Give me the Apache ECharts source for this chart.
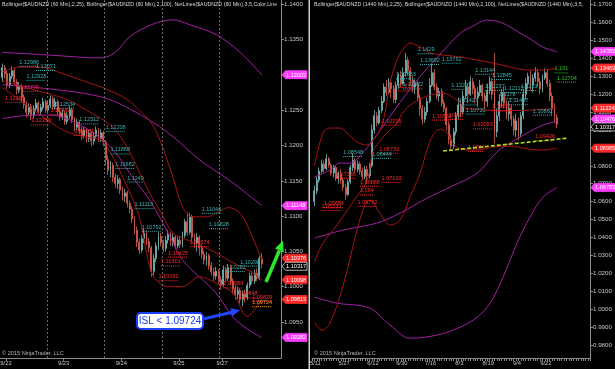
<!DOCTYPE html>
<html><head><meta charset="utf-8">
<script src="https://cdn.jsdelivr.net/npm/echarts@6/dist/echarts.min.js"></script>
<style>html,body{margin:0;padding:0;background:#000;}#c{width:615px;height:369px;}</style>
</head><body><div id="c"></div>
<script>
// ---------- 60 min panel (left) ----------
const leftOpen = [
1.1296,1.1310,1.1302,1.1285,1.1298,1.1306,1.1290,1.1279,1.1283,1.1268,
1.1258,1.1247,1.1255,1.1243,1.1252,1.1260,1.1248,1.1254,1.1262,1.1250,
1.1257,1.1266,1.1255,1.1262,1.1248,1.1240,1.1246,1.1234,1.1242,1.1251,
1.1237,1.1226,1.1233,1.1221,1.1214,1.1222,1.1210,1.1217,1.1206,1.1213,
1.1222,1.1210,1.1218,1.1205,1.1180,1.1165,1.1172,1.1155,1.1146,1.1152,
1.1137,1.1128,1.1133,1.1118,1.1110,1.1096,1.1080,1.1063,1.1052,1.1068,
1.1076,1.1064,1.1055,1.1022,1.1040,1.1058,1.1071,1.1062,1.1054,1.1066,
1.1074,1.1063,1.1070,1.1058,1.1066,1.1060,1.1073,1.1092,1.1077,1.1099,
1.1070,1.1062,1.1070,1.1055,1.1046,1.1038,1.1044,1.1030,1.1021,1.1015,
1.1022,1.1010,1.1003,1.1024,1.1012,1.1027,1.1008,1.0997,1.0989,1.0995,
1.0982,1.0990,1.0985,1.1002,1.1015,1.1008,1.1019,1.1012,1.1040];
const leftClose = [
1.1310,1.1302,1.1285,1.1298,1.1306,1.1290,1.1279,1.1283,1.1268,1.1258,
1.1247,1.1255,1.1243,1.1252,1.1260,1.1248,1.1254,1.1262,1.1250,1.1257,
1.1266,1.1255,1.1262,1.1248,1.1240,1.1246,1.1234,1.1242,1.1251,1.1237,
1.1226,1.1233,1.1221,1.1214,1.1222,1.1210,1.1217,1.1206,1.1213,1.1222,
1.1210,1.1218,1.1205,1.1180,1.1165,1.1172,1.1155,1.1146,1.1152,1.1137,
1.1128,1.1133,1.1118,1.1110,1.1096,1.1080,1.1063,1.1052,1.1068,1.1076,
1.1064,1.1055,1.1022,1.1040,1.1058,1.1071,1.1062,1.1054,1.1066,1.1074,
1.1063,1.1070,1.1058,1.1066,1.1060,1.1073,1.1092,1.1077,1.1099,1.1070,
1.1062,1.1070,1.1055,1.1046,1.1038,1.1044,1.1030,1.1021,1.1015,1.1022,
1.1010,1.1003,1.1024,1.1012,1.1027,1.1008,1.0997,1.0989,1.0995,1.0982,
1.0990,1.0985,1.1002,1.1015,1.1008,1.1019,1.1012,1.1040,1.1032];
const leftHigh = [
1.1316,1.1314,1.1306,1.1303,1.1312,1.1309,1.1294,1.1290,1.1287,1.1272,
1.1263,1.1260,1.1259,1.1257,1.1266,1.1263,1.1259,1.1268,1.1265,1.1262,
1.1271,1.1270,1.1268,1.1265,1.1253,1.1251,1.1249,1.1247,1.1256,1.1254,
1.1240,1.1238,1.1236,1.1226,1.1227,1.1225,1.1222,1.1220,1.1219,1.1227,
1.1225,1.1223,1.1221,1.1208,1.1186,1.1178,1.1176,1.1160,1.1158,1.1155,
1.1142,1.1139,1.1136,1.1122,1.1114,1.1100,1.1085,1.1068,1.1073,1.1082,
1.1080,1.1069,1.1058,1.1046,1.1063,1.1077,1.1076,1.1067,1.1072,1.1080,
1.1078,1.1075,1.1073,1.1071,1.1072,1.1078,1.1096,1.1105,1.1104,1.1102,
1.1075,1.1076,1.1073,1.1060,1.1051,1.1049,1.1047,1.1035,1.1027,1.1028,
1.1025,1.1015,1.1030,1.1028,1.1032,1.1031,1.1012,1.1002,1.1000,1.0998,
1.0995,1.0996,1.1006,1.1020,1.1022,1.1024,1.1026,1.1044,1.1048];
const leftLow = [
1.1290,1.1295,1.1280,1.1281,1.1294,1.1286,1.1272,1.1274,1.1262,1.1252,
1.1240,1.1242,1.1236,1.1238,1.1248,1.1244,1.1243,1.1250,1.1246,1.1247,
1.1253,1.1250,1.1251,1.1243,1.1235,1.1236,1.1229,1.1230,1.1238,1.1232,
1.1220,1.1222,1.1216,1.1208,1.1210,1.1204,1.1205,1.1199,1.1201,1.1209,
1.1205,1.1205,1.1199,1.1172,1.1158,1.1155,1.1148,1.1140,1.1138,1.1131,
1.1122,1.1120,1.1112,1.1104,1.1090,1.1074,1.1056,1.1046,1.1048,1.1062,
1.1059,1.1049,1.1014,1.1016,1.1035,1.1052,1.1057,1.1049,1.1050,1.1061,
1.1058,1.1057,1.1053,1.1054,1.1055,1.1056,1.1069,1.1072,1.1074,1.1065,
1.1055,1.1050,1.1044,1.1040,1.1032,1.1030,1.1024,1.1016,1.1008,1.1010,
1.1004,1.0996,1.0999,1.1006,1.1008,1.1002,1.0990,1.0982,1.0983,1.0976,
1.0972,1.0978,1.0981,1.0998,1.1003,1.1004,1.1008,1.1009,1.1026];

const leftBB100Upper = [[0,1.1332],[20,1.1328],[41,1.1324],[47,1.1332],[53,1.1354],[62,1.1371],[71,1.1378],[78,1.1371],[89,1.1357],[99,1.1332],[108,1.1300]];
const leftBB100Mid = [[0,1.1286],[20,1.1280],[41,1.1269],[54,1.1250],[69,1.1218],[82,1.1180],[96,1.1147],[108,1.1115]];
const leftBB100Lower = [[0,1.1238],[13,1.1243],[20,1.1243],[34,1.1226],[45,1.1198],[54,1.1156],[62,1.1119],[69,1.1076],[75,1.1038],[82,1.1014],[89,1.0991],[96,1.0957],[102,1.0940],[108,1.0928]];
const leftBB20Upper = [[0,1.1304],[7,1.1311],[16,1.1311],[24,1.1303],[35,1.1290],[44,1.1279],[52,1.1265],[57,1.1250],[62,1.1232],[66,1.1204],[71,1.1155],[75,1.1113],[79,1.1099],[85,1.1099],[91,1.1108],[94,1.1112],[99,1.1104],[104,1.1071],[108,1.1038]];
const leftBB20Mid = [[0,1.1292],[13,1.1279],[27,1.1265],[35,1.1250],[45,1.1229],[50,1.1208],[54,1.1184],[60,1.1141],[66,1.1105],[71,1.1076],[77,1.1066],[82,1.1059],[89,1.1048],[96,1.1034],[104,1.1020],[108,1.1010]];
const leftBB20Lower = [[0,1.1282],[7,1.1265],[13,1.1250],[20,1.1233],[27,1.1219],[35,1.1212],[41,1.1208],[45,1.1190],[52,1.1141],[57,1.1099],[60,1.1048],[63,1.1014],[69,1.1000],[75,1.1000],[82,1.1014],[89,1.1005],[96,1.0991],[102,1.0958],[104,1.0963],[107,1.0977],[108,1.0982]];

const leftSessionBreaks = [18.6, 42.3, 66.5, 90.25];
const leftDateTicks = [1.5, 25.5, 49.5, 73.5, 91.5];
const leftDateLabels = ['9/22','9/23','9/24','9/25','9/27'];
const leftPriceTicks = [1.0950,1.1000,1.1050,1.1100,1.1150,1.1200,1.1250,1.1300,1.1350,1.1400];

const leftNetIdx = [7,14,10,7,1,22,20,12,32,30,43,45,47,52,55,58,69,66,65,78,83,86,99,93,92,98,104,104];
const leftNetLevel = [1.1313,1.1307,1.1293,1.12775,1.1262,1.12534,1.12442,1.12299,1.12312,1.1215,1.12208,1.11888,1.11682,1.1149,1.11113,1.10792,1.10425,1.10301,1.10091,1.10574,1.11046,1.10828,1.10298,1.10222,1.09989,1.09848,1.0980,1.09724];
const leftNetText = ['1.12986','1.13071','1.12928','1.12775','1.12662','1.12534','1.12442','1.12299','1.12312','1.12081','1.12208','1.11888','1.11682','1.1149','1.11113','1.10792','1.10425','1.10301','1.10091','1.10574','1.11046','1.10828','1.10298','1.10222','1.09989','1.09848','1.09829','1.09724'];
const leftNetColor = [0,0,0,1,1,0,1,1,0,1,0,0,0,0,0,0,1,1,1,1,0,0,0,0,1,1,1,2];

const leftTagValues = [1.13003,1.11148,1.10376,1.10317,1.10098,1.09819,1.09282];
const leftTagKinds = ['m','m','r','c','r','r','m'];

// ---------- daily panel (right) ----------
const rightOpen = [
1.0600,1.0660,1.0720,1.0770,1.0810,1.0785,1.0840,1.0805,1.0760,1.0790,
1.0730,1.0755,1.0720,1.0680,1.0640,1.0710,1.0790,1.0830,1.0780,1.0810,
1.0770,1.0740,1.0780,1.0745,1.0800,1.1000,1.1080,1.1040,1.1110,1.1160,
1.1240,1.1210,1.1265,1.1230,1.1170,1.1250,1.1300,1.1260,1.1320,1.1390,
1.1330,1.1280,1.1240,1.1260,1.1180,1.1120,1.1060,1.1100,1.1160,1.1250,
1.1320,1.1240,1.1190,1.1215,1.1150,1.1120,1.1030,1.0950,1.0910,1.0990,
1.1080,1.1140,1.1100,1.1190,1.1240,1.1200,1.1270,1.1230,1.1180,1.1210,
1.1250,1.1190,1.1160,1.1220,1.1270,1.1200,1.0990,1.1080,1.1160,1.1210,
1.1150,1.1090,1.1120,1.1060,1.1000,1.1050,1.0980,1.1080,1.1200,1.1260,
1.1300,1.1250,1.1290,1.1320,1.1270,1.1230,1.1290,1.1320,1.1260,1.1190,
1.1120,1.1070];
const rightClose = [
1.0660,1.0720,1.0770,1.0810,1.0785,1.0840,1.0805,1.0760,1.0790,1.0730,
1.0755,1.0720,1.0680,1.0640,1.0710,1.0790,1.0830,1.0780,1.0810,1.0770,
1.0740,1.0780,1.0745,1.0800,1.1000,1.1080,1.1040,1.1110,1.1160,1.1240,
1.1210,1.1265,1.1230,1.1170,1.1250,1.1300,1.1260,1.1320,1.1390,1.1330,
1.1280,1.1240,1.1260,1.1180,1.1120,1.1060,1.1100,1.1160,1.1250,1.1320,
1.1240,1.1190,1.1215,1.1150,1.1120,1.1030,1.0950,1.0910,1.0990,1.1080,
1.1140,1.1100,1.1190,1.1240,1.1200,1.1270,1.1230,1.1180,1.1210,1.1250,
1.1190,1.1160,1.1220,1.1270,1.1200,1.0990,1.1080,1.1160,1.1210,1.1150,
1.1090,1.1120,1.1060,1.1000,1.1050,1.0980,1.1080,1.1200,1.1260,1.1300,
1.1250,1.1290,1.1320,1.1270,1.1230,1.1290,1.1320,1.1260,1.1190,1.1120,
1.1070,1.1032];
const rightHigh = [
1.0690,1.0740,1.0790,1.0835,1.0830,1.0865,1.0850,1.0815,1.0805,1.0800,
1.0770,1.0780,1.0735,1.0700,1.0725,1.0805,1.0870,1.0845,1.0830,1.0825,
1.0790,1.0800,1.0800,1.0815,1.1030,1.1110,1.1100,1.1130,1.1190,1.1260,
1.1280,1.1290,1.1285,1.1250,1.1270,1.1320,1.1330,1.1350,1.1430,1.1410,
1.1350,1.1300,1.1280,1.1275,1.1200,1.1140,1.1130,1.1180,1.1290,1.1370,
1.1340,1.1260,1.1235,1.1230,1.1170,1.1130,1.1050,1.0975,1.1010,1.1100,
1.1180,1.1170,1.1220,1.1280,1.1260,1.1300,1.1290,1.1250,1.1240,1.1280,
1.1260,1.1210,1.1260,1.1300,1.1290,1.1430,1.1120,1.1200,1.1230,1.1240,
1.1170,1.1160,1.1140,1.1080,1.1090,1.1070,1.1100,1.1230,1.1290,1.1320,
1.1330,1.1310,1.1350,1.1340,1.1290,1.1310,1.1345,1.1340,1.1280,1.1210,
1.1150,1.1090];
const rightLow = [
1.0575,1.0640,1.0705,1.0755,1.0765,1.0775,1.0790,1.0745,1.0735,1.0715,
1.0700,1.0700,1.0660,1.0610,1.0630,1.0700,1.0770,1.0760,1.0765,1.0750,
1.0720,1.0725,1.0700,1.0730,1.0790,1.0980,1.1020,1.1030,1.1095,1.1150,
1.1190,1.1200,1.1180,1.1150,1.1150,1.1230,1.1240,1.1250,1.1300,1.1310,
1.1250,1.1210,1.1200,1.1160,1.1080,1.1030,1.1040,1.1080,1.1150,1.1240,
1.1220,1.1170,1.1160,1.1130,1.1100,1.1000,1.0920,1.0885,1.0895,1.0970,
1.1060,1.1070,1.1090,1.1170,1.1150,1.1190,1.1200,1.1150,1.1130,1.1190,
1.1160,1.1120,1.1130,1.1200,1.1170,1.0926,1.0960,1.1050,1.1130,1.1120,
1.1060,1.1050,1.1020,1.0970,1.0960,1.0944,1.0960,1.1060,1.1170,1.1230,
1.1220,1.1210,1.1270,1.1240,1.1200,1.1210,1.1280,1.1240,1.1160,1.1080,
1.1040,1.1010];

const rightBB100Upper = [[0,1.0737],[6.5,1.0776],[10.7,1.0815],[14.8,1.0815],[20,1.0871],[24.4,1.0944],[33.4,1.1112],[42.75,1.1279],[51.3,1.1408],[60.9,1.1542],[66,1.1580],[72,1.1614],[77.3,1.1603],[81.5,1.1575],[88.6,1.1519],[95.25,1.1463],[101,1.1438]];
const rightBB100Mid = [[0,1.0396],[12,1.0441],[26,1.0480],[35.7,1.0536],[47,1.0620],[56.5,1.0681],[67.75,1.0759],[76,1.0877],[81.5,1.0927],[88.6,1.0983],[95.25,1.1028],[101,1.1048]];
const rightBB100Lower = [[0,1.0066],[9.4,1.0033],[23,1.0005],[31.5,0.9910],[39.8,0.9837],[51,0.9854],[60.7,0.9899],[67.75,0.9954],[73.2,1.0033],[78.6,1.0178],[84.4,1.0368],[89.8,1.0513],[95.25,1.0625],[101,1.0678]];
const rightBB20Upper = [[0,1.0800],[3.6,1.0983],[6.5,1.1011],[10.7,1.1011],[13.6,1.0983],[17.75,1.0933],[21.9,1.0916],[24.4,1.0944],[27.3,1.1000],[29.4,1.1095],[31.5,1.1263],[34.4,1.1391],[37,1.1453],[39.8,1.1486],[44,1.1464],[48.2,1.1430],[53.6,1.1419],[60.7,1.1408],[67.75,1.1391],[74.4,1.1374],[81.5,1.1352],[88.6,1.1335],[95.25,1.1335],[101,1.1346]];
const rightBB20Mid = [[0,1.0262],[3.6,1.0368],[9.4,1.0469],[16,1.0597],[22,1.0720],[24.4,1.0880],[28,1.0950],[31.5,1.1000],[34.4,1.1040],[37,1.1100],[41,1.1150],[48.2,1.1195],[53.6,1.1206],[59.4,1.1167],[63.6,1.1120],[68,1.1115],[76,1.1108],[88.6,1.1110],[101,1.1122]];
const rightBB20Lower = [[0,0.9926],[3.2,0.9882],[6.5,0.9921],[12,1.0133],[17.75,1.0441],[21,1.0580],[23,1.0608],[27.3,1.0536],[31.5,1.0469],[35.7,1.0497],[39.8,1.0625],[44,1.0759],[46.9,1.0888],[49.4,1.0972],[52.3,1.1005],[55.25,1.0983],[57.75,1.0927],[60.7,1.0895],[67.75,1.0888],[74.4,1.0905],[81.5,1.0910],[88.6,1.0895],[95.25,1.0888],[101,1.0899]];
const rightTrend = [[53.6,1.0883],[105.7,1.0955]];

const rightDateTicks = [0.4,12.4,24.4,36.4,48.4,60.4,72.4,84.4,96.4];
const rightDateLabels = ['5/11','5/27','6/12','6/30','7/16','8/3','8/19','9/4','9/22'];
const rightPriceTicks = [0.98,0.99,1.00,1.01,1.02,1.03,1.04,1.05,1.06,1.07,1.08,1.09,1.10,1.11,1.12,1.13,1.14,1.15,1.16,1.17];

const rightNetIdx = [43,44,53,34,33,37,57,67,74,71,79,60,77,81,86,49,54,63,74,91,66,28,27,12,24,9,28,19,19,4,18,3,64,92,100,101];
const rightNetLevel = [1.1429,1.13692,1.13762,1.12883,1.12213,1.12322,1.12297,1.13144,1.12845,1.12237,1.12112,1.11427,1.1178,1.11437,1.1223,1.10582,1.10627,1.1092,1.1110,1.10862,1.10093,1.10296,1.08733,1.08548,1.08444,1.07336,1.07103,1.06888,1.064,1.05684,1.05762,1.05531,1.0884,1.09426,1.1322,1.12704];
const rightNetText = ['1.1429','1.13692','1.13762','1.12883','1.12213','1.12322','1.12297','1.13144','1.12845','1.12237','1.12112','1.11427','1.1178','1.11437','1.1223','1.10582','1.10627','1.10720','1.10780','1.10862','1.10093','1.10296','1.08733','1.08548','1.08444','1.07336','1.07103','1.06888','1.064','1.05684','1.05762','1.05531','1.0884','1.09426','1.131','1.12704'];
const rightNetColor = [0,0,0,0,1,0,0,0,0,0,0,0,0,0,0,1,1,0,1,0,1,1,1,0,0,1,1,1,1,1,1,1,1,1,3,3];

const rightTagValues = [1.14383,1.13463,1.11224,1.10476,1.10317,1.08985,1.06783];
const rightTagKinds = ['m','r','r','m','c','r','m'];

const leftHeader = 'Bollinger($AUDNZD (60 Min),2,25), Bollinger($AUDNZD (60 Min),2,100), NetLines($AUDNZD (60 Min),3,5,Color,Line';
const rightHeader = 'Bollinger($AUDNZD (1440 Min),2,25), Bollinger($AUDNZD (1440 Min),2,100), NetLines($AUDNZD (1440 Min),3,5,Col';
const copyright = '\u00a9 2015 NinjaTrader, LLC';
const annotationText = 'ISL < 1.09724';

// ---------- styles ----------
const FONT = '"Liberation Sans", Arial, sans-serif';
const UP = '#78b8b8', DOWN = '#d9604f';
const MAG = '#a41fa4', RED = '#a81414';
const NET_COLORS = ['#3cb4b4', '#ff2a2a', '#ffa020', '#22cc22'];
const AXIS_COL = '#8a8a8a', LABEL_COL = '#c8c8c8';

const chart = echarts.init(document.getElementById('c'), null, {renderer: 'canvas'});

function ohlc(o, c, l, h) { return o.map((v, k) => [k, v, c[k], l[k], h[k]]); }
function labelFor(ticks, labels) {
  return v => { const k = ticks.findIndex(t => Math.abs(t - v) < 1e-6); return k >= 0 ? labels[k] : ''; };
}
function bandLine(data, color, xi) {
  return {type: 'line', xAxisIndex: xi, yAxisIndex: xi, data: data, smooth: 0.35, showSymbol: false,
    silent: true, z: 3, lineStyle: {color: color, width: 1}};
}
function netSeries(xi, idx, level, col, texts) {
  return {type: 'custom', xAxisIndex: xi, yAxisIndex: xi, z: 5, silent: true,
    data: idx.map((v, k) => [v, level[k], col[k]]),
    encode: {x: 0, y: 1},
    renderItem: function (params, api) {
      const p = api.coord([api.value(0), api.value(1)]);
      const c = NET_COLORS[api.value(2)];
      const t = texts[params.dataIndex];
      const w = t.length * 2.7;
      return {type: 'group', children: [
        {type: 'text', x: p[0], y: p[1] - 0.5, style: {text: t, fill: c, font: '5.5px ' + FONT, verticalAlign: 'bottom', align: 'left'}},
        {type: 'line', shape: {x1: p[0], y1: p[1] + 0.5, x2: p[0] + w, y2: p[1] + 0.5}, style: {stroke: c, lineWidth: 1, lineDash: [1, 1]}}
      ]};
    }};
}
function xAxisCfg(gi, min, max, ticks, labels, extra) {
  return Object.assign({gridIndex: gi, type: 'value', min: min, max: max,
    axisLine: {show: true, onZero: false, lineStyle: {color: AXIS_COL, width: 1}},
    axisTick: {show: true, customValues: ticks, length: 3, lineStyle: {color: AXIS_COL}},
    axisLabel: {show: true, customValues: ticks, formatter: labelFor(ticks, labels), color: LABEL_COL, fontSize: 5.8, fontFamily: FONT, margin: 2},
    splitLine: {show: false}}, extra || {});
}
function yAxisCfg(gi, min, max, ticks) {
  return {gridIndex: gi, type: 'value', position: 'right', min: min, max: max,
    axisLine: {show: true, onZero: false, lineStyle: {color: AXIS_COL, width: 1}},
    axisTick: {show: true, customValues: ticks, length: 3, lineStyle: {color: AXIS_COL}},
    axisLabel: {show: true, customValues: ticks, formatter: v => v.toFixed(4), color: LABEL_COL, fontSize: 6.2, fontFamily: FONT, margin: 3},
    splitLine: {show: false}};
}
const candleStyle = {color: UP, color0: DOWN, borderColor: UP, borderColor0: DOWN, borderWidth: 0.8};

const rightXAxis = xAxisCfg(1, -1, 114.8, rightDateTicks, rightDateLabels);
rightXAxis.axisTick = {show: true, interval: 0, length: 3, lineStyle: {color: AXIS_COL}};
rightXAxis.interval = 1;

const option = {
  animation: false,
  backgroundColor: '#000',
  grid: [
    {left: 0, top: 0, width: 281, height: 358, outerBoundsMode: 'none', containLabel: false},
    {left: 312, top: 0, width: 278, height: 358, outerBoundsMode: 'none', containLabel: false}
  ],
  xAxis: [xAxisCfg(0, -1, 116, leftDateTicks, leftDateLabels), rightXAxis],
  yAxis: [yAxisCfg(0, 1.0899, 1.14061, leftPriceTicks), yAxisCfg(1, 0.97263, 1.17263, rightPriceTicks)],
  series: [
    {type: 'candlestick', xAxisIndex: 0, yAxisIndex: 0, data: ohlc(leftOpen, leftClose, leftLow, leftHigh),
      encode: {x: 0, y: [1, 2, 3, 4]}, barWidth: 1.4, itemStyle: candleStyle, z: 2, silent: true,
      markLine: {silent: true, symbol: ['none', 'none'], label: {show: false},
        lineStyle: {color: '#6a6a6a', type: [2, 2], width: 1},
        data: leftSessionBreaks.map(v => ({xAxis: v}))}},
    bandLine(leftBB100Upper, MAG, 0), bandLine(leftBB100Mid, MAG, 0), bandLine(leftBB100Lower, MAG, 0),
    bandLine(leftBB20Upper, RED, 0), bandLine(leftBB20Mid, RED, 0), bandLine(leftBB20Lower, RED, 0),
    netSeries(0, leftNetIdx, leftNetLevel, leftNetColor, leftNetText),
    {type: 'candlestick', xAxisIndex: 1, yAxisIndex: 1, data: ohlc(rightOpen, rightClose, rightLow, rightHigh),
      encode: {x: 0, y: [1, 2, 3, 4]}, barWidth: 1.4, itemStyle: candleStyle, z: 2, silent: true},
    bandLine(rightBB100Upper, MAG, 1), bandLine(rightBB100Mid, MAG, 1), bandLine(rightBB100Lower, MAG, 1),
    bandLine(rightBB20Upper, RED, 1), bandLine(rightBB20Mid, RED, 1), bandLine(rightBB20Lower, RED, 1),
    {type: 'line', xAxisIndex: 1, yAxisIndex: 1, data: rightTrend, showSymbol: false, silent: true, z: 6,
      lineStyle: {color: '#b4dc1e', width: 1.6, type: [4, 2]}},
    netSeries(1, rightNetIdx, rightNetLevel, rightNetColor, rightNetText)
  ]
};
chart.setOption(option);

// ---------- graphics: headers, divider, annotations, price tags ----------
const graphics = [
  {type: 'text', x: 2, y: 2, z: 50, style: {text: leftHeader, fill: '#d8d8d8', font: '5.3px ' + FONT, width: 278, overflow: 'truncate', ellipsis: '', verticalAlign: 'top'}},
  {type: 'text', x: 314, y: 2, z: 50, style: {text: rightHeader, fill: '#d8d8d8', font: '5.3px ' + FONT, width: 272, overflow: 'truncate', ellipsis: '', verticalAlign: 'top'}},
  {type: 'text', x: 2, y: 353, z: 50, style: {text: copyright, fill: '#b4b4b4', font: '5.6px ' + FONT, verticalAlign: 'middle'}},
  {type: 'text', x: 314, y: 353, z: 50, style: {text: copyright, fill: '#b4b4b4', font: '5.6px ' + FONT, verticalAlign: 'middle'}},
  {type: 'rect', shape: {x: 308.5, y: 0, width: 1.5, height: 369}, style: {fill: '#d0d0d0'}, z: 50},
  // ISL annotation
  {type: 'line', shape: {x1: 203, y1: 319, x2: 232, y2: 312.3}, style: {stroke: '#2244ff', lineWidth: 3.2}, z: 60},
  {type: 'polygon', shape: {points: [[240, 310], [232.2, 316.2], [230.3, 308.2]]}, style: {fill: '#2244ff'}, z: 60},
  {type: 'rect', shape: {x: 137, y: 313, width: 66, height: 16, r: 4}, style: {fill: '#ffffff', stroke: '#1f3fff', lineWidth: 2}, z: 61},
  {type: 'text', x: 170, y: 321.5, z: 62, style: {text: annotationText, fill: '#1a3cf0', font: '10px ' + FONT, align: 'center', verticalAlign: 'middle'}},
  // green arrow
  {type: 'line', shape: {x1: 266, y1: 282, x2: 279.4, y2: 250.5}, style: {stroke: '#2ee82e', lineWidth: 3.5}, z: 60},
  {type: 'polygon', shape: {points: [[283, 240.5], [283.6, 252], [275, 248.5]]}, style: {fill: '#2ee82e'}, z: 60}
];

function tagGraphics(values, kinds, yAxisIndex, x0) {
  const items = values.map((v, k) => ({v: v, kind: kinds[k], y: chart.convertToPixel({yAxisIndex: yAxisIndex}, v)}));
  items.sort((a, b) => a.y - b.y);
  for (let k = 1; k < items.length; k++) {
    const gap = items[k].y - items[k - 1].y;
    if (gap < 8) { const d = (8 - gap) / 2; items[k - 1].y -= d; items[k].y += d; }
  }
  const out = [];
  items.forEach(it => {
    const y = it.y, w = 25;
    const fill = it.kind === 'm' ? '#ff3cff' : (it.kind === 'r' ? '#ff2b2b' : '#000000');
    const stroke = it.kind === 'c' ? '#e0e0e0' : fill;
    out.push({type: 'polygon', z: 70, shape: {points: [[x0, y], [x0 + 3.5, y - 4], [x0 + w, y - 4], [x0 + w, y + 4], [x0 + 3.5, y + 4]]},
      style: {fill: fill, stroke: stroke, lineWidth: 0.8}});
    out.push({type: 'text', z: 71, x: x0 + 4, y: y + 0.3, style: {text: it.v.toFixed(5), fill: '#ffffff', font: '5.6px ' + FONT, verticalAlign: 'middle'}});
  });
  return out;
}
const allGraphics = graphics
  .concat(tagGraphics(leftTagValues, leftTagKinds, 0, 282))
  .concat(tagGraphics(rightTagValues, rightTagKinds, 1, 591));
chart.setOption({graphic: allGraphics});
</script>
</body></html>
